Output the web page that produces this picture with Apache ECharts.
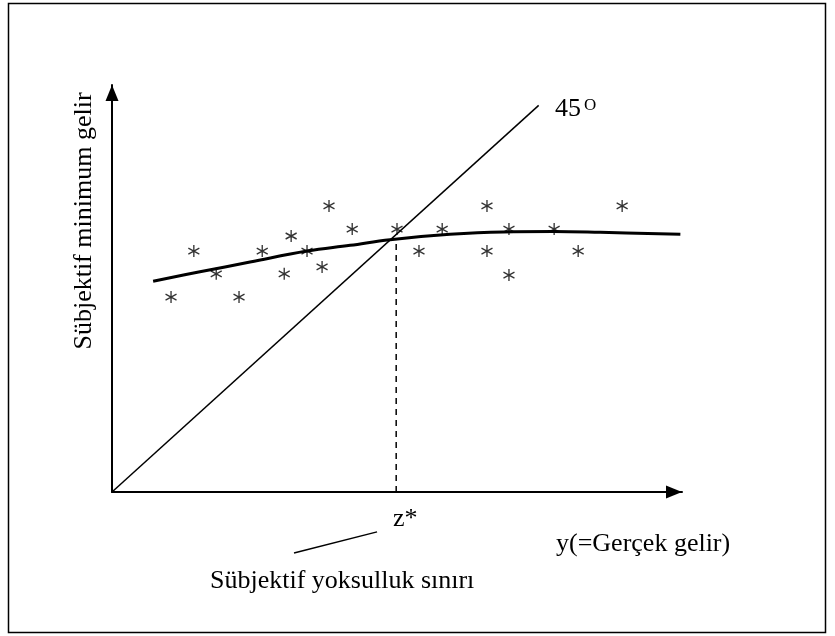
<!DOCTYPE html>
<html>
<head>
<meta charset="utf-8">
<script src="https://cdn.jsdelivr.net/npm/echarts@6/dist/echarts.min.js"></script>
<style>html,body{margin:0;padding:0;background:#fff}#c{width:835px;height:636px}</style>
</head>
<body>
<div id="c"></div>
<script>
// Axis ranges (abstract units, equal scale on both axes)
var xRange = [0, 140];
var yRange = [0, 100];

// Subjective minimum income curve
var curveX = [10.1, 21.6, 33.9, 47.9, 58.5, 68.3, 83.0, 96.1, 108.4, 119.9, 139.6];
var curveY = [51.8, 54.1, 56.5, 59.2, 60.6, 62.0, 63.3, 63.9, 64.0, 63.8, 63.3];

// Survey observations (asterisks)
var obsX = [14.5, 20.1, 25.6, 31.2, 36.9, 42.3, 44.0, 47.9, 51.6, 53.3, 59.0, 70.0, 75.4, 81.1, 92.1, 92.1, 97.5, 97.5, 108.6, 114.5, 125.3];
var obsY = [47.9, 59.2, 53.6, 47.9, 59.2, 53.6, 62.9, 59.2, 55.3, 70.3, 64.6, 64.6, 59.2, 64.6, 70.3, 59.2, 64.6, 53.3, 64.6, 59.2, 70.3];

// 45 degree line endpoints
var diagX = [0, 104.8];
var diagY = [0, 95.0];

// Poverty line z*
var zStar = 69.8;
var zTop = 61.0;

// Leader line from label to z*
var leaderX = [44.7, 65.1];
var leaderY = [-15.0, -9.8];

// Texts
var yTitle = 'Sübjektif minimum gelir';
var xTitle = 'y(=Gerçek gelir)';
var zLabel = 'z*';
var diagLabel = '45';
var diagSup = 'O';
var povertyLabel = 'Sübjektif yoksulluk sınırı';

function zip(a, b) { return a.map(function (v, i) { return [v, b[i]]; }); }

var FONT = '"Liberation Serif", "Times New Roman", serif';
var asterisk = 'path://M0,-10L0,10M-8.66,-5L8.66,5M-8.66,5L8.66,-5';

var chart = echarts.init(document.getElementById('c'), null, {renderer: 'canvas'});
var axisCommon = {
  type: 'value',
  axisLine: {show: true, onZero: false, lineStyle: {color: '#000', width: 2},
    symbol: ['none', 'triangle'], symbolSize: [13, 16], symbolOffset: [0, -8]},
  axisTick: {show: false}, axisLabel: {show: false}, splitLine: {show: false}
};
chart.setOption({
  animation: false,
  backgroundColor: '#fff',
  grid: {left: 112, top: 85, right: 153, bottom: 144},
  xAxis: Object.assign({}, axisCommon, {min: xRange[0], max: xRange[1]}),
  yAxis: Object.assign({}, axisCommon, {min: yRange[0], max: yRange[1]}),
  graphic: [
    {type: 'rect', shape: {x: 8.5, y: 3.5, width: 817, height: 629}, style: {fill: 'none', stroke: '#000', lineWidth: 1.5}, z: 0},
    {type: 'text', x: 84, y: 221, rotation: Math.PI / 2, style: {text: yTitle, font: '26px ' + FONT, fill: '#000', textAlign: 'center', textVerticalAlign: 'middle'}},
    {type: 'text', x: 555, y: 122, style: {text: diagLabel, font: '26px ' + FONT, fill: '#000', textAlign: 'left', textVerticalAlign: 'bottom'}},
    {type: 'text', x: 584, y: 114, style: {text: diagSup, font: '17px ' + FONT, fill: '#000', textAlign: 'left', textVerticalAlign: 'bottom'}},
    {type: 'text', x: 393, y: 532, style: {text: zLabel, font: '26px ' + FONT, fill: '#000', textAlign: 'left', textVerticalAlign: 'bottom'}},
    {type: 'text', x: 556, y: 557, style: {text: xTitle, font: '26px ' + FONT, fill: '#000', textAlign: 'left', textVerticalAlign: 'bottom'}},
    {type: 'text', x: 210, y: 594, style: {text: povertyLabel, font: '26px ' + FONT, fill: '#000', textAlign: 'left', textVerticalAlign: 'bottom'}}
  ],
  series: [
    {type: 'line', data: zip(diagX, diagY), symbol: 'none', lineStyle: {color: '#000', width: 1.5}, z: 3},
    {type: 'line', data: zip(curveX, curveY), smooth: 0.4, symbol: 'none', lineStyle: {color: '#000', width: 3}, z: 4},
    {type: 'line', data: [[zStar, 0], [zStar, zTop]], symbol: 'none', lineStyle: {color: '#000', width: 1.5, type: [6, 5]}, z: 3},
    {type: 'line', data: zip(leaderX, leaderY), symbol: 'none', clip: false, lineStyle: {color: '#000', width: 1.5}, z: 3},
    {type: 'scatter', data: zip(obsX, obsY), symbol: asterisk, symbolSize: [11, 12],
      itemStyle: {color: 'transparent', borderColor: '#000', borderWidth: 1.4}, z: 5}
  ]
});
</script>
</body>
</html>
